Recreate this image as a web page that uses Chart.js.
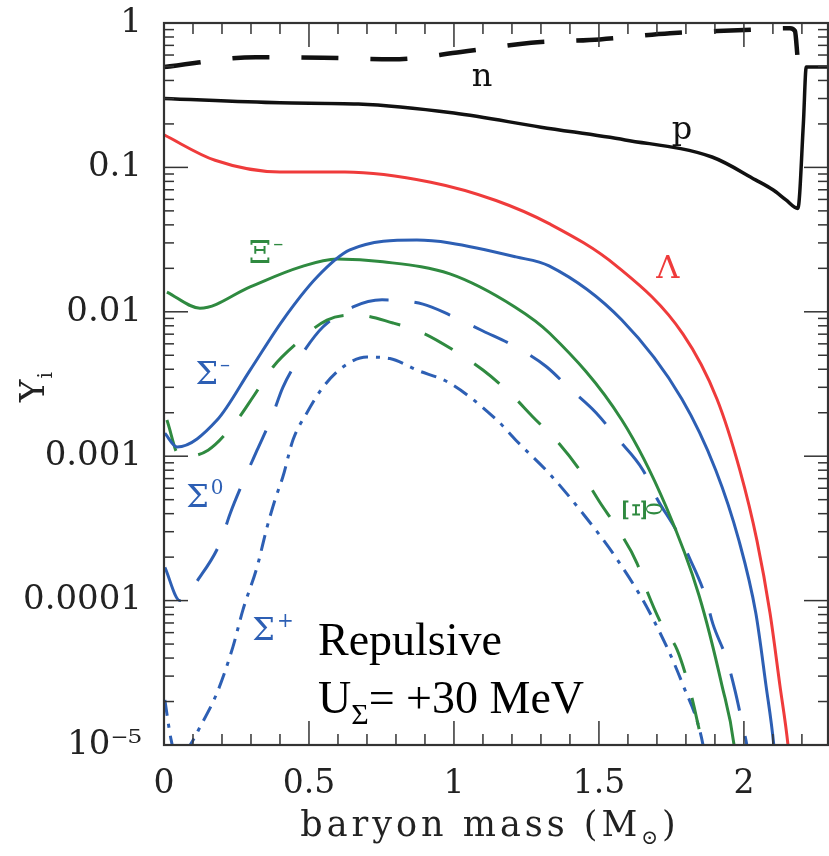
<!DOCTYPE html>
<html>
<head>
<meta charset="utf-8">
<script src="https://cdn.jsdelivr.net/npm/chart.js@4.4.1/dist/chart.umd.min.js"></script>
<style>
  html, body { margin: 0; padding: 0; background: #fff; }
  #wrap { width: 829px; height: 856px; }
</style>
</head>
<body>
<div id="wrap"><canvas id="chart" width="829" height="856"></canvas></div>
<script>
// baryon mass (Msun) and particle fractions Y_i
const massN = [0, 0.317, 0.548, 0.786, 1.024, 1.266, 1.503, 1.745, 1.979, 2.159, 2.176, 2.185];
const yN = [0.495, 0.58, 0.575, 0.56, 0.63, 0.73, 0.77, 0.85, 0.89, 0.92, 0.88, 0.58];

const massP = [0, 0.40, 0.67, 1.00, 1.30, 1.59, 1.89, 2.04, 2.10, 2.145, 2.186, 2.205, 2.215, 2.29];
const yP = [0.30, 0.28, 0.275, 0.238, 0.19, 0.155, 0.118, 0.082, 0.070, 0.0595, 0.052, 0.2, 0.495, 0.495];

const massL = [0, 0.176, 0.40, 0.624, 0.92, 1.145, 1.33, 1.56, 1.79, 1.907, 1.986, 2.045, 2.09, 2.124, 2.152, 2.165];
const yL = [0.168, 0.112, 0.093, 0.093, 0.079, 0.059, 0.0406, 0.0208, 0.0070, 0.00249, 8.0e-4, 2.6e-4, 8.2e-5, 2.6e-5, 1e-5, 5e-6];

const massSm = [0.003, 0.045, 0.183, 0.297, 0.41, 0.528, 0.641, 0.872, 0.986, 1.214, 1.328, 1.579, 1.786, 1.903, 1.983, 2.041, 2.076, 2.103, 2.115];
const ySm = [0.00144, 0.00116, 0.00178, 0.00395, 0.00877, 0.0174, 0.0268, 0.0314, 0.0300, 0.024, 0.0208, 0.00877, 0.00249, 8.0e-4, 2.6e-4, 8.2e-5, 2.6e-5, 1e-5, 5e-6];

const massXm = [0.01, 0.124, 0.297, 0.469, 0.597, 0.755, 0.986, 1.21, 1.33, 1.579, 1.731, 1.845, 1.924, 1.966, 1.98];
const yXm = [0.0137, 0.0106, 0.0149, 0.0204, 0.0232, 0.0222, 0.0183, 0.0108, 0.0071, 0.00178, 4.5e-4, 1.09e-4, 2.6e-5, 1e-5, 5e-6];

const massX0 = [0.01, 0.055, 0.152, 0.252, 0.307, 0.376, 0.459, 0.562, 0.666, 0.79, 0.893, 1.0, 1.10, 1.2, 1.269, 1.366, 1.434, 1.503, 1.562, 1.631, 1.666, 1.72, 1.769, 1.814, 1.838, 1.855, 1.87];
const yX0 = [0.00178, 9.9e-4, 0.0011, 0.00178, 0.00257, 0.00415, 0.00608, 0.00877, 0.0095, 0.00836, 0.00713, 0.0054, 0.00395, 0.00265, 0.0019, 0.0012, 8.0e-4, 4.8e-4, 3.2e-4, 1.82e-4, 1.16e-4, 6.6e-5, 4.6e-5, 2.4e-5, 1.5e-5, 1e-5, 5e-6];

const massS0 = [0.003, 0.055, 0.124, 0.193, 0.228, 0.279, 0.321, 0.372, 0.41, 0.479, 0.548, 0.652, 0.752, 0.893, 0.986, 1.10, 1.2, 1.317, 1.397, 1.49, 1.562, 1.652, 1.70, 1.769, 1.814, 1.866, 1.893, 1.941, 1.969, 1.997, 2.01, 2.02];
const yS0 = [1.7e-4, 1.0e-4, 1.46e-4, 2.5e-4, 4.0e-4, 7.1e-4, 0.0011, 0.00187, 0.003, 0.0052, 0.00785, 0.0108, 0.0121, 0.0113, 0.0095, 0.00736, 0.0059, 0.0042, 0.00297, 0.002, 0.00134, 8.0e-4, 5.1e-4, 3.0e-4, 1.94e-4, 1.09e-4, 6.9e-5, 3.9e-5, 2.4e-5, 1.33e-5, 1e-5, 7e-6];

const massSp = [0.003, 0.024, 0.045, 0.09, 0.124, 0.183, 0.238, 0.272, 0.321, 0.355, 0.383, 0.41, 0.445, 0.493, 0.548, 0.617, 0.70, 0.779, 0.872, 0.986, 1.148, 1.217, 1.331, 1.445, 1.562, 1.676, 1.79, 1.859, 1.87];
const ySp = [2.05e-5, 1.1e-5, 8e-6, 1e-5, 1.33e-5, 2.3e-5, 4.8e-5, 8.6e-5, 1.71e-4, 3.2e-4, 5.0e-4, 7.2e-4, 0.0013, 0.002, 0.003, 0.00415, 0.00486, 0.00475, 0.00395, 0.0032, 0.00178, 0.00127, 7.5e-4, 4.0e-4, 1.94e-4, 8.2e-5, 2.6e-5, 1e-5, 7e-6];

const xTicks = [0, 0.5, 1, 1.5, 2];
const yTicks = [1e-5, 1e-4, 1e-3, 0.01, 0.1, 1];
const yTickText = ["10\u207B\u2075", "0.0001", "0.001", "0.01", "0.1", "1"];

const RED = "#ef3b3b";
const BLUE = "#2d5fb4";
const GREEN = "#2f8a40";

// curve labels: [text, superscript, mass, Y, colour, rotated]
const curveLabels = [
  ["n", "", 1.10, 0.416, "#111", false],
  ["p", "", 1.79, 0.181, "#111", false],
  ["\u039B", "", 1.741, 0.0195, RED, false],
  ["\u039E", "\u2013", 0.352, 0.0247, GREEN, false],
  ["\u03A3", "\u2013", 0.168, 0.0036, BLUE, false],
  ["\u03A3", "0", 0.141, 5.06e-4, BLUE, false],
  ["\u03A3", "+", 0.376, 6.06e-5, BLUE, false],
  ["\u039E", "0", 1.634, 4.24e-4, GREEN, true],
];

function pts(xs, ys) {
  return xs.map((v, i) => ({ x: v, y: ys[i] }));
}

function series(label, xs, ys, color, width, dash) {
  return {
    label,
    data: pts(xs, ys),
    borderColor: color,
    borderWidth: width,
    borderDash: dash || [],
    showLine: true,
    pointRadius: 0,
    cubicInterpolationMode: "monotone",
    fill: false,
  };
}

const framePlugin = {
  id: "frame",
  afterDatasetsDraw(chart) {
    const { ctx, chartArea: a, scales } = chart;
    const x = scales.x, y = scales.y;
    ctx.save();
    ctx.strokeStyle = "#333";
    ctx.lineWidth = 1.5;
    const seg = (x1, y1, x2, y2) => {
      ctx.beginPath(); ctx.moveTo(x1, y1); ctx.lineTo(x2, y2); ctx.stroke();
    };
    // x ticks, bottom and top, pointing in
    for (let i = 0; i <= 22; i++) {
      const px = x.getPixelForValue(i / 10);
      const len = i % 5 === 0 ? 24 : 11;
      seg(px, a.bottom, px, a.bottom - len);
      seg(px, a.top, px, a.top + len);
    }
    // y ticks, left and right
    for (let e = -5; e <= 0; e++) {
      for (let m = 1; m <= 9; m++) {
        const v = m * Math.pow(10, e);
        if (v > 1.0001) break;
        const py = y.getPixelForValue(v);
        const len = m === 1 ? 24 : 10;
        seg(a.left, py, a.left + len, py);
        seg(a.right, py, a.right - len, py);
      }
    }
    ctx.lineWidth = 2.2;
    ctx.strokeRect(a.left, a.top, a.right - a.left, a.bottom - a.top);

    // curve labels
    ctx.textBaseline = "middle";
    ctx.textAlign = "left";
    curveLabels.forEach(([t, sup, mx, my, col, rotated]) => {
      const px = x.getPixelForValue(mx);
      const py = y.getPixelForValue(my);
      ctx.save();
      ctx.translate(px, py);
      ctx.fillStyle = col;
      ctx.font = "32px 'DejaVu Serif'";
      const w = ctx.measureText(t).width;
      if (rotated) {
        // sideways Xi with its 0 to the right
        ctx.save();
        ctx.translate(-6, 0);
        ctx.rotate(Math.PI / 2);
        ctx.fillText(t, -w / 2, 0);
        ctx.restore();
        ctx.font = "22px 'DejaVu Serif'";
        ctx.save();
        ctx.translate(14, -2);
        ctx.rotate(Math.PI / 2);
        ctx.fillText(sup, -6, 0);
        ctx.restore();
      } else {
        ctx.font = "20px 'DejaVu Serif'";
        const sw = sup ? ctx.measureText(sup).width : 0;
        const x0 = -(w + sw + 2) / 2;
        ctx.font = "32px 'DejaVu Serif'";
        ctx.fillText(t, x0, 0);
        if (sup) {
          ctx.font = "20px 'DejaVu Serif'";
          ctx.fillText(sup, x0 + w + 2, -10);
        }
      }
      ctx.restore();
    });

    // annotation text
    ctx.fillStyle = "#000";
    ctx.textAlign = "left";
    ctx.textBaseline = "alphabetic";
    const ax = x.getPixelForValue(0.531);
    ctx.font = "46px 'Liberation Serif'";
    ctx.fillText("Repulsive", ax, y.getPixelForValue(4.2e-5));
    const by = y.getPixelForValue(1.67e-5);
    ctx.fillText("U", ax, by);
    let cx = ax + ctx.measureText("U").width;
    ctx.font = "30px 'Liberation Serif'";
    ctx.fillText("\u03A3", cx, by + 11);
    cx += ctx.measureText("\u03A3").width;
    ctx.font = "46px 'Liberation Serif'";
    ctx.fillText("= +30 MeV", cx, by);

    // axis titles
    ctx.fillStyle = "#222";
    ctx.font = "35px 'DejaVu Serif'";
    ctx.letterSpacing = "4px";
    const t1 = "baryon mass (M";
    const w1 = ctx.measureText(t1).width;
    ctx.font = "20px 'DejaVu Serif'";
    const w2 = ctx.measureText("\u2299").width;
    ctx.font = "35px 'DejaVu Serif'";
    const w3 = ctx.measureText(")").width;
    let tx = 490 - (w1 + w2 + w3) / 2;
    const ty = 836;
    ctx.fillText(t1, tx, ty);
    tx += w1;
    ctx.font = "20px 'DejaVu Serif'";
    ctx.fillText("\u2299", tx, ty + 8);
    tx += w2;
    ctx.font = "35px 'DejaVu Serif'";
    ctx.fillText(")", tx, ty);

    ctx.letterSpacing = "0px";
    ctx.save();
    ctx.translate(44, 402);
    ctx.rotate(-Math.PI / 2);
    ctx.font = "34px 'DejaVu Serif'";
    ctx.fillText("Y", 0, 0);
    const yw = ctx.measureText("Y").width;
    ctx.font = "20px 'DejaVu Serif'";
    ctx.fillText("i", yw + 1, 8);
    ctx.restore();

    ctx.restore();
  },
};

new Chart(document.getElementById("chart"), {
  type: "scatter",
  data: {
    datasets: [
      series("n", massN, yN, "#111", 4.5, [37, 32]),
      series("p", massP, yP, "#111", 3.5),
      series("Lambda", massL, yL, RED, 3),
      series("Sigma-", massSm, ySm, BLUE, 3),
      series("Xi-", massXm, yXm, GREEN, 3),
      series("Xi0", massX0, yX0, GREEN, 3, [32, 26]),
      series("Sigma0", massS0, yS0, BLUE, 3, [38, 26]),
      series("Sigma+", massSp, ySp, BLUE, 3, [16, 8, 4, 8]),
    ],
  },
  options: {
    responsive: false,
    devicePixelRatio: 1,
    animation: false,
    layout: { padding: { left: 0, right: 1, top: 23, bottom: 0 } },
    plugins: { legend: { display: false }, tooltip: { enabled: false } },
    scales: {
      x: {
        type: "linear",
        min: 0,
        max: 2.29,
        afterFit: (s) => { s.height = 111; s.paddingLeft = 0; s.paddingRight = 0; },
        afterBuildTicks: (s) => { s.ticks = xTicks.map((v) => ({ value: v })); },
        grid: { display: false, drawTicks: false },
        border: { display: false },
        ticks: {
          padding: 20,
          color: "#222",
          font: { family: "'DejaVu Serif'", size: 33 },
          callback: (v) => String(v),
          maxRotation: 0,
        },
      },
      y: {
        type: "logarithmic",
        min: 1e-5,
        max: 1,
        afterFit: (s) => { s.width = 164; s.paddingTop = 0; s.paddingBottom = 0; },
        afterBuildTicks: (s) => { s.ticks = yTicks.map((v) => ({ value: v })); },
        grid: { display: false, drawTicks: false },
        border: { display: false },
        ticks: {
          padding: 22,
          color: "#222",
          font: { family: "'DejaVu Serif'", size: 34 },
          callback: (v) => {
            const i = yTicks.findIndex((t) => Math.abs(Math.log10(t) - Math.log10(v)) < 1e-6);
            return i >= 0 ? yTickText[i] : "";
          },
        },
      },
    },
  },
  plugins: [framePlugin],
});
</script>
</body>
</html>
